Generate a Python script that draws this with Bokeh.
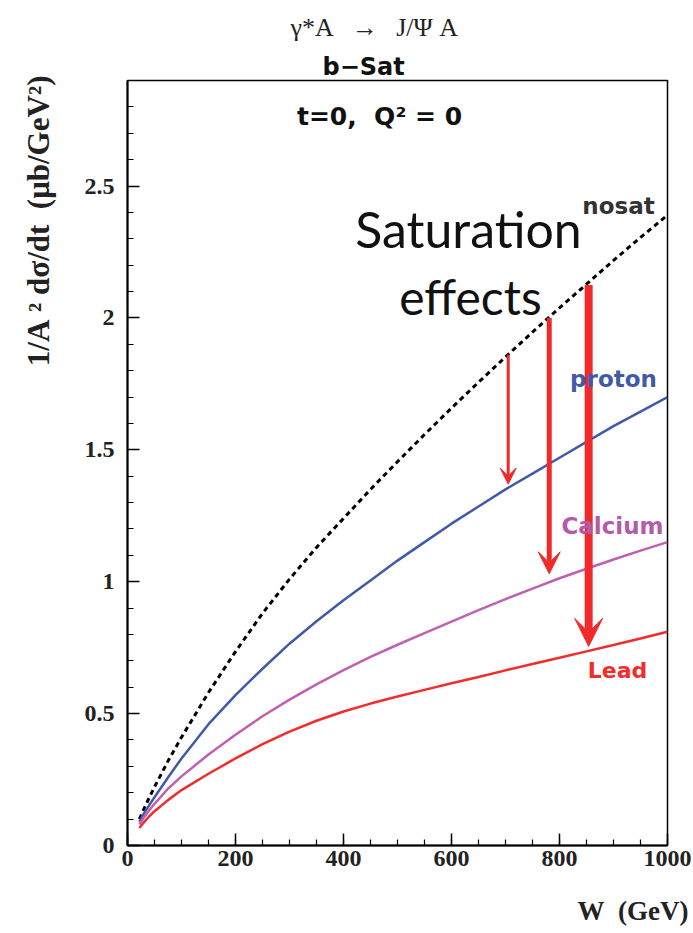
import numpy as np
from bokeh.plotting import figure
from bokeh.models import Range1d, FixedTicker, Label, Arrow, VeeHead, Title
from bokeh.embed import file_html
from bokeh.resources import INLINE

# ---- data ----
W = [22, 30, 40, 50, 75, 100, 150, 200, 250, 300, 350, 400, 450, 500,
     550, 600, 650, 700, 750, 800, 850, 900, 950, 1000]
nosat = [0.10, 0.137, 0.18, 0.222, 0.32, 0.41, 0.58, 0.735, 0.88, 1.01, 1.13, 1.24,
         1.35, 1.455, 1.558, 1.658, 1.756, 1.852, 1.946, 2.038, 2.128, 2.218, 2.305, 2.39]
proton = [0.09, 0.12, 0.152, 0.183, 0.258, 0.33, 0.46, 0.57, 0.67, 0.765, 0.85, 0.93,
          1.005, 1.08, 1.15, 1.22, 1.285, 1.35, 1.41, 1.47, 1.53, 1.59, 1.645, 1.70]
calcium = [0.08, 0.105, 0.133, 0.158, 0.215, 0.262, 0.345, 0.42, 0.49, 0.553, 0.611, 0.665,
           0.715, 0.761, 0.805, 0.849, 0.892, 0.934, 0.974, 1.013, 1.049, 1.084, 1.118, 1.15]
lead = [0.066, 0.087, 0.11, 0.13, 0.172, 0.21, 0.272, 0.33, 0.384, 0.432, 0.473, 0.508,
        0.538, 0.565, 0.59, 0.615, 0.639, 0.664, 0.688, 0.712, 0.736, 0.76, 0.785, 0.81]

arrow_W = [705, 781, 854]
arrow_from = [1.86, 2.00, 2.125]
arrow_to = [1.37, 1.03, 0.755]

x_ticks = [0, 200, 400, 600, 800, 1000]
y_ticks = [0, 0.5, 1, 1.5, 2, 2.5]
y_tick_labels = ["0", "0.5", "1", "1.5", "2", "2.5"]

# ---- geometry ----
W_PX, H_PX = 693, 933
L, R, T, B = 127, 26, 80, 88
XMIN, XMAX, YMIN, YMAX = 0, 1000, 0, 2.9
fw, fh = W_PX - L - R, H_PX - T - B

def dx(px):
    return XMIN + (px - L) * (XMAX - XMIN) / fw

def dy(py):
    return YMIN + (H_PX - B - py) * (YMAX - YMIN) / fh

p = figure(width=W_PX, height=H_PX, output_backend="svg", toolbar_location=None,
           x_range=Range1d(XMIN, XMAX), y_range=Range1d(YMIN, YMAX),
           min_border_left=L, min_border_right=R, min_border_top=T, min_border_bottom=B)
p.grid.visible = False
p.outline_line_color = "black"
p.outline_line_width = 1.5
p.background_fill_color = "white"
p.border_fill_color = "white"

serif = "Liberation Serif"
sans = "DejaVu Sans"

p.xaxis.ticker = FixedTicker(ticks=x_ticks, minor_ticks=list(range(0, 1001, 50)))
p.yaxis.ticker = FixedTicker(ticks=y_ticks, minor_ticks=[round(0.1 * i, 1) for i in range(0, 29)])
p.yaxis.major_label_overrides = {t: s for t, s in zip(y_ticks, y_tick_labels)}
for ax in (p.xaxis, p.yaxis):
    ax.axis_line_width = 2
    ax.major_tick_in = 12
    ax.major_tick_out = 0
    ax.minor_tick_in = 6
    ax.minor_tick_out = 0
    ax.major_tick_line_width = 1.5
    ax.minor_tick_line_width = 1.2
    ax.major_label_text_font = serif
    ax.major_label_text_font_style = "bold"
    ax.major_label_text_font_size = "24px"
    ax.major_label_text_color = "#222222"
    # invisible spacer label, pushes the outer titles away from the tick labels
    ax.axis_label = "\u00a0"
    ax.axis_label_text_font_size = "10px"
p.xaxis.major_label_standoff = 5
p.yaxis.major_label_standoff = 13
p.xaxis.axis_label_standoff = 11
p.yaxis.axis_label_standoff = 11

# ---- outer titles ----
p.add_layout(Title(text="b\u2212Sat", align="left", offset=195, standoff=0,
                   text_font=sans, text_font_style="bold", text_font_size="24px",
                   text_color="#111111"), "above")
p.add_layout(Title(text="γ*A\u2002\u2009→\u2002\u2009J/Ψ A", align="left", offset=163, standoff=18,
                   text_font=serif, text_font_style="normal", text_font_size="26px",
                   text_color="#222222"), "above")
p.add_layout(Title(text="1/A\u00a0² dσ/dt\u00a0\u00a0(μb/GeV²)", align="right", offset=-5,
                   standoff=0, vertical_align="middle",
                   text_font=serif, text_font_style="bold", text_font_size="31px",
                   text_color="#222222"), "left")
p.add_layout(Title(text="W\u2002(GeV)", align="right", offset=-21, standoff=0,
                   text_font=serif, text_font_style="bold", text_font_size="27px",
                   text_color="#222222"), "below")

# ---- curves ----
p.line(W, nosat, line_color="black", line_width=3, line_dash="5 4")
p.line(W, proton, line_color="#3f5ba8", line_width=2.5)
p.line(W, calcium, line_color="#c060b0", line_width=2.5)
p.line(W, lead, line_color="#f22c2c", line_width=2.5)

# ---- arrows ----
arrow_widths = [3, 5, 8]
head_sizes = [16, 22, 28]
for xw, y0, y1, lw, hs in zip(arrow_W, arrow_from, arrow_to, arrow_widths, head_sizes):
    p.add_layout(Arrow(x_start=xw, y_start=y0, x_end=xw, y_end=y1,
                       line_color="#f02a2a", line_width=lw,
                       end=VeeHead(size=hs, fill_color="#f02a2a", line_color="#f02a2a")))

def lab(text, px, py, size, font, color="black", style="normal", align="center"):
    p.add_layout(Label(x=dx(px), y=dy(py), text=text, text_font=font,
                       text_font_size=size, text_color=color, text_font_style=style,
                       text_align=align, text_baseline="middle"))

lab("t=0,\u00a0\u00a0Q² = 0", 379, 116, "25px", sans, color="#111111", style="bold")
lab("Saturation", 468, 228, "50px", "Lato", color="#111111")
lab("effects", 470, 296, "48px", "Lato", color="#111111")
lab("nosat", 618, 205, "23px", sans, color="#333333", style="bold")
lab("proton", 613, 378, "23px", sans, color="#3f5ba8", style="bold")
lab("Calcium", 612, 525, "23px", sans, color="#b35aa8", style="bold")
lab("Lead", 617, 670, "22px", sans, color="#f22c2c", style="bold")

open("out.html", "w").write(file_html(p, INLINE))
